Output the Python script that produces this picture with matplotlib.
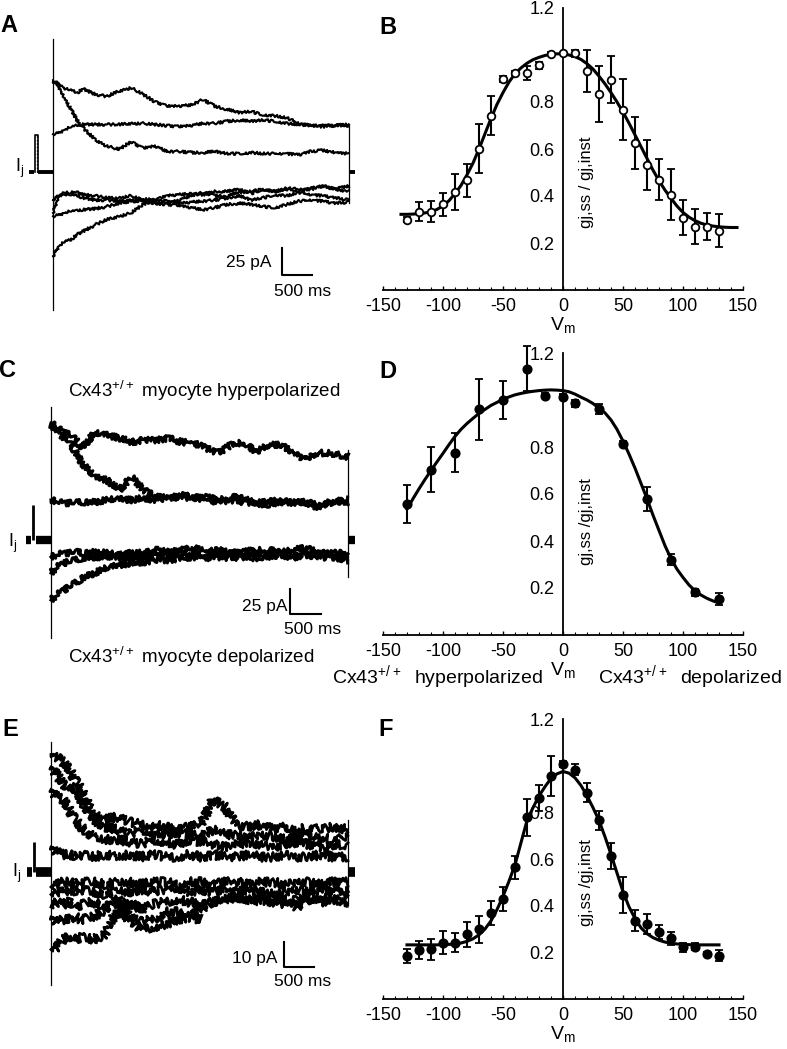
import numpy as np
import matplotlib
matplotlib.use("Agg")
import matplotlib.pyplot as plt

plt.rcParams['font.family'] = ['Liberation Sans', 'DejaVu Sans']
plt.rcParams['mathtext.fontset'] = 'custom'
plt.rcParams['mathtext.rm'] = 'Liberation Sans'
plt.rcParams['axes.unicode_minus'] = False

nan = np.nan

# ---- current traces (ms, pA) ----
tA = [0, 100, 200, 300, 400, 500, 700, 900, 1100, 1300, 1500, 1700, 1900, 2100,
      2300, 2500, 2700, 2900, 3100, 3300, 3500, 3700, 3900, 4100, 4300, 4500, 4700, 4930]
A_traces = [
    [85, 81, 77, 76, 73, 77, 72, 70, 75, 78, 72, 65, 61, 61, 62, 67, 61, 58, 55, 56, 53, 52, 50, 45, 43, 43, 43, 44],
    [35, 36, 39, 42, 43, 44, 44, 44, 44, 45, 45, 44, 43, 42, 43, 45, 45, 47, 48, 47, 48, 47, 45, 44, 43, 42, 43, 43],
    [84, 78, 67, 58, 48, 41, 30, 24, 21, 28, 22, 24, 19, 19, 18, 18, 19, 17, 17, 18, 17, 17, 17, 16, 19, 20, 18, 17],
    [-38, -22, -19, -19, -19, -21, -22, -24, -24, -22, -26, -29, -29, -26, -22, -19, -22, -22, -19, -18, -16, -18, -15, -16, -16, -13, -16, -13],
    [-41, -40, -38, -36, -36, -35, -34, -32, -29, -27, -27, -29, -30, -31, -33, -35, -33, -30, -29, -30, -32, -33, -30, -27, -26, -27, -29, -28],
    [-26, -22, -21, -21, -22, -24, -26, -26, -27, -26, -25, -26, -27, -29, -28, -27, -26, -24, -22, -26, -24, -21, -22, -19, -21, -22, -24, -26],
    [-78, -69, -64, -63, -58, -55, -49, -44, -41, -38, -30, -26, -22, -21, -20, -21, -18, -18, -16, -20, -16, -18, -16, -18, -15, -13, -16, -18],
]

tC = [0, 100, 200, 300, 400, 500, 700, 900, 1100, 1300, 1500, 1700, 1900, 2100,
      2300, 2500, 2700, 2900, 3100, 3300, 3500, 3700, 3900, 4100, 4300, 4500, 4790]
C_traces = [
    [117, 112, 108, 105, 100, 92, 107, 105, 102, 98, 100, 100, 102, 98, 97, 92, 87, 95, 98, 88, 95, 95, 88, 80, 87, 87, 83],
    [115, 108, 103, 97, 88, 77, 63, 60, 50, 63, 50, 43, 42, 43, 42, 43, 40, 43, 42, 37, 38, 40, 38, 37, 33, 38, 40],
    [40, 38, 37, 37, 37, 38, 38, 40, 41, 40, 42, 40, 42, 45, 43, 40, 38, 40, 38, 37, 35, 38, 37, 38, 35, 37, 38],
    [-17, -15, -13, -13, -12, -13, -12, -13, -15, -13, -13, -10, -12, -10, -8, -12, -10, -13, -12, -10, -10, -12, -10, -8, -12, -13, -13],
    [-33, -27, -23, -22, -20, -18, -17, -17, -18, -17, -17, -15, -15, -13, -15, -17, -13, -15, -17, -13, -15, -13, -17, -15, -13, -15, -17],
    [-60, -55, -50, -47, -43, -38, -33, -28, -25, -23, -22, -20, -20, -18, -17, -18, -17, -18, -17, -18, -17, -15, -18, -15, -17, -18, -20],
]

tE = [0, 100, 200, 300, 400, 500, 700, 900, 1100, 1300, 1500, 1700, 1900, 2100,
      2300, 2500, 2700, 2900, 3100, 3300, 3500, 3700, 3900, 4100, 4300, 4500, 4700, 4950]
E_traces = [
    [47, 46, 44, 41, 37, 33, 23, 21, 22, 20, 19, 19, 18, 17, 18, 19, 29, 26, 19, 18, 19, 17, 18, 17, 18, 17, 18, 17],
    [42, 39, 35, 33, 34, 29, 21, 18, 17, 15, 17, 16, 15, 16, 15, 14, 17, 15, 15, 14, 15, 14, 13, 14, 15, 14, 13, 14],
    [33, 30, 29, 25, 21, 18, 14, 13, 13, 12, 11, 13, 12, 11, 13, 12, 11, 10, 11, 12, 11, 10, 11, 12, 11, 10, 11, 11],
    [10, 8, 7, 7, 6, 7, 6, 7, 6, 7, 6, 7, 6, 6, 7, 6, 7, 6, 6, 7, 6, 6, 7, 6, 6, 7, 6, 6],
    [-6, -5, -4, -4, -5, -4, -4, -5, -4, -4, -5, -4, -4, -5, -4, -4, -5, -4, -4, -5, -4, -4, -5, -4, -4, -5, -4, -4],
    [-9, -8, -8, -7, -8, -7, -8, -9, -7, -8, -7, -8, -7, -6, -8, -7, -8, -7, -8, -7, -8, -9, -8, -7, -8, -7, -8, -7],
    [-14, -12, -13, -12, -14, -13, -12, -14, -13, -12, -15, -13, -12, -11, -12, -13, -12, -11, -10, -12, -11, -12, -13, -11, -10, -12, -11, -12],
    [-18, -20, -19, -19, -18, -19, -18, -15, -10, -18, -20, -19, -16, -16, -18, -19, nan, nan, nan, nan, nan, nan, nan, nan, nan, nan, nan, nan],
    [-31, -30, -27, -26, -27, -26, -27, -25, -15, -19, -23, -22, -21, -19, -18, -15, -12, -11, -10, -11, -9, -10, -11, -14, -11, -10, -11, -11],
]

# capacitive transient at onset (top, bottom) and at offset (top, bottom), pA
A_on, A_off = (123, -128), (44, -29)
C_on, C_off = (133, -98), (90, -37)
E_on, E_off = (52, -45), (21, -13)
# test pulse before the step (pA)
A_pre, C_pre, E_pre = 34, 35, 12

# ---- g-V data ----
vB = list(range(-130, 131, 10))
gB = [0.30, 0.333, 0.333, 0.364, 0.417, 0.466, 0.602, 0.742, 0.899, 0.924, 0.924, 0.957, 1.006, 1.008,
      1.008, 0.931, 0.833, 0.894, 0.767, 0.625, 0.532, 0.469, 0.406, 0.308, 0.270, 0.270, 0.252]
eB = [0.01, 0.04, 0.045, 0.05, 0.078, 0.072, 0.106, 0.083, 0.012, 0.01, 0.03, 0.015, 0.005, 0.0,
      0.015, 0.09, 0.12, 0.10, 0.13, 0.11, 0.108, 0.088, 0.108, 0.074, 0.074, 0.056, 0.07]
fitB_v = list(range(-135, 146, 5))
fitB_g = [0.322, 0.322, 0.323, 0.325, 0.328, 0.333, 0.343, 0.358, 0.38, 0.41, 0.445, 0.49, 0.54, 0.60,
          0.665, 0.73, 0.79, 0.84, 0.885, 0.92, 0.945, 0.965, 0.98, 0.99, 0.998, 1.003, 1.005, 1.005,
          1.0, 0.993, 0.981, 0.963, 0.94, 0.91, 0.877, 0.84, 0.80, 0.757, 0.71, 0.66, 0.61, 0.56, 0.51,
          0.465, 0.425, 0.39, 0.357, 0.33, 0.31, 0.295, 0.284, 0.277, 0.272, 0.269, 0.267, 0.266, 0.266]

vD = [-130, -110, -90, -70, -50, -30, -15, 0, 10, 30, 50, 70, 90, 110, 130]
gD = [0.557, 0.704, 0.776, 0.961, 1.0, 1.133, 1.019, 1.014, 0.986, 0.961, 0.814, 0.579, 0.321, 0.181, 0.153]
eD = [0.08, 0.096, 0.083, 0.13, 0.08, 0.095, 0.01, 0.01, 0.015, 0.02, 0.01, 0.05, 0.025, 0.015, 0.025]
fitD_v = list(range(-130, 131, 5))
fitD_g = [0.536, 0.58, 0.622, 0.662, 0.70, 0.737, 0.773, 0.81, 0.845, 0.875, 0.90, 0.922, 0.943, 0.96,
          0.977, 0.99, 1.003, 1.013, 1.022, 1.028, 1.033, 1.037, 1.04, 1.042, 1.043, 1.042, 1.04, 1.035,
          1.025, 1.012, 1.0, 0.985, 0.965, 0.945, 0.915, 0.875, 0.825, 0.77, 0.71, 0.645, 0.58, 0.51,
          0.445, 0.38, 0.325, 0.28, 0.245, 0.213, 0.188, 0.17, 0.156, 0.145, 0.136]

vF = list(range(-130, 131, 10))
gF = [0.186, 0.21, 0.214, 0.242, 0.242, 0.277, 0.298, 0.368, 0.428, 0.564, 0.778, 0.862, 0.955, 1.007,
      0.983, 0.885, 0.766, 0.613, 0.445, 0.336, 0.322, 0.288, 0.26, 0.221, 0.224, 0.193, 0.186]
eF = [0.03, 0.037, 0.045, 0.05, 0.04, 0.052, 0.058, 0.052, 0.052, 0.05, 0.08, 0.055, 0.085, 0.012,
      0.025, 0.04, 0.04, 0.055, 0.077, 0.045, 0.042, 0.03, 0.028, 0.02, 0.015, 0.01, 0.025]
fitF_v = list(range(-130, 131, 5))
fitF_g = [0.232, 0.232, 0.232, 0.232, 0.232, 0.232, 0.233, 0.234, 0.236, 0.24, 0.247, 0.258, 0.275, 0.30,
          0.335, 0.383, 0.44, 0.505, 0.575, 0.67, 0.765, 0.82, 0.87, 0.91, 0.945, 0.965, 0.975,
          0.968, 0.948, 0.915, 0.871, 0.82, 0.765, 0.695, 0.62, 0.54, 0.46, 0.395, 0.345, 0.305, 0.28,
          0.263, 0.252, 0.244, 0.239, 0.236, 0.234, 0.233, 0.232, 0.232, 0.232, 0.232, 0.232]

W, H = 787, 1049
fig = plt.figure(figsize=(W / 100, H / 100), dpi=100)


def px_rect(x0, y0, x1, y1):
    return [x0 / W, 1 - y1 / H, (x1 - x0) / W, (y1 - y0) / H]


def ftext(x, y, s, **kw):
    fig.text(x / W, 1 - y / H, s, **kw)


def trace_axes(x0, y0, x1, y1, t0px, base_px, ms_px, pa_px):
    ax = fig.add_axes(px_rect(x0, y0, x1, y1))
    ax.set_xlim((x0 - t0px) * ms_px, (x1 - t0px) * ms_px)
    ax.set_ylim((base_px - y1) * pa_px, (base_px - y0) * pa_px)
    ax.axis("off")
    return ax


def draw_traces(ax, t, traces, on, off, pre, lw, noise, wl, base_lw, hollow_pulse,
                bar_t, bar_pa, bar_x, bar_y):
    for tr in traces:
        ln, = ax.plot(t, tr, color="black", lw=lw)
        ln.set_sketch_params(noise, wl, 3)
    ax.plot([0, 0], on, color="black", lw=0.9)
    ax.plot([t[-1], t[-1]], off, color="black", lw=0.9)
    if hollow_pulse:
        ax.plot([-300, -300, -250, -250], [0, pre, pre, 0], color="black", lw=1.2)
        ax.plot([-275, -275], [0, pre], color="black", lw=1.0, ls=(0, (1, 1.5)))
    else:
        ax.plot([-285, -285], [0, pre], color="black", lw=2.0, solid_capstyle="butt")
    ax.plot([-400, -320], [0, 0], color="black", lw=base_lw, solid_capstyle="butt")
    ax.plot([-250, 0], [0, 0], color="black", lw=base_lw, solid_capstyle="butt")
    ax.plot([t[-1], t[-1] + 110], [0, 0], color="black", lw=base_lw, solid_capstyle="butt")
    # scale bar
    ax.plot([bar_x, bar_x, bar_x + bar_t], [bar_y + bar_pa, bar_y, bar_y], color="black", lw=1.5)


# ---- panel A ----
axA = trace_axes(0, 30, 365, 320, 53, 172, 16.67, 0.926)
draw_traces(axA, tA, A_traces, A_on, A_off, A_pre, 1.5, 1.3, 1.8, 2.8, True, 500, 25, 3817, -95.4)
ftext(272, 263, "25 pA", ha="right", va="center", fontsize=12.5)
ftext(303, 291, "500 ms", ha="center", va="center", fontsize=12.5)
ftext(20, 168, r"I$_\mathregular{j}$", ha="center", va="center", fontsize=13)

# ---- panel C ----
axC = trace_axes(0, 395, 365, 650, 51, 540, 16.13, 1.0)
draw_traces(axC, tC, C_traces, C_on, C_off, C_pre, 2.2, 3.0, 1.0, 6, False, 500, 25, 3855, -74)
ftext(288, 606, "25 pA", ha="right", va="center", fontsize=12.5)
ftext(313, 629, "500 ms", ha="center", va="center", fontsize=12.5)
ftext(13, 543, r"I$_\mathregular{j}$", ha="center", va="center", fontsize=13)
ftext(68, 391, r"Cx43$^\mathregular{+/+}$ myocyte hyperpolarized", ha="left", va="center", fontsize=13.5)
ftext(68, 657, r"Cx43$^\mathregular{+/+}$ myocyte depolarized", ha="left", va="center", fontsize=13.5)

# ---- panel E ----
axE = trace_axes(0, 735, 365, 1000, 51, 872, 16.67, 0.4)
draw_traces(axE, tE, E_traces, E_on, E_off, E_pre, 2.0, 4.5, 0.8, 7, False, 500, 10, 3884, -38)
ftext(277, 958, "10 pA", ha="right", va="center", fontsize=12.5)
ftext(303, 981, "500 ms", ha="center", va="center", fontsize=12.5)
ftext(17, 873, r"I$_\mathregular{j}$", ha="center", va="center", fontsize=13)


# ---- g-V panels ----
def gv_panel(y_top, y_bot, v, g, e, fv, fg, open_marker, ylab, ylab_y):
    ax = fig.add_axes(px_rect(383, y_top, 743, y_bot))
    ax.set_xlim(-150, 150)
    ax.set_ylim(0, 1.2)
    ax.spines["left"].set_position(("data", 0))
    ax.spines[["top", "right"]].set_visible(False)
    for s in ("left", "bottom"):
        ax.spines[s].set_linewidth(1.3)
    ax.plot(fv, fg, color="black", lw=2.2, zorder=2)
    ax.errorbar(v, g, yerr=e, fmt="o", ms=5.5 if open_marker else 6,
                mfc="white" if open_marker else "black", mec="black", mew=1.3,
                ecolor="black", elinewidth=1.5, capsize=3, capthick=1.5, zorder=3, clip_on=False)
    ax.set_xticks([-150, -100, -50, 0, 50, 100, 150])
    ax.set_xticks(range(-150, 151, 10), minor=True)
    ax.set_yticks([0.2, 0.4, 0.6, 0.8, 1.2])
    ax.set_yticklabels(["0.2", "0.4", "0.6", "0.8", "1.2"])
    ax.tick_params(axis="y", length=0, pad=6, labelsize=13)
    ax.tick_params(axis="x", which="major", direction="in", length=3, width=1, pad=6, labelsize=13)
    ax.tick_params(axis="x", which="minor", direction="in", length=2, width=0.8)
    ax.set_xlabel(r"V$_\mathregular{m}$", fontsize=14, labelpad=0)
    ftext(587, ylab_y, ylab, rotation=90, ha="center", va="center", fontsize=12)
    return ax


gv_panel(8, 290, vB, gB, eB, fitB_v, fitB_g, True, "gj,ss / gj,inst", 182)
gv_panel(353, 635, vD, gD, eD, fitD_v, fitD_g, False, "gj,ss /gj,inst", 522)
gv_panel(719, 999, vF, gF, eF, fitF_v, fitF_g, False, "gj,ss /gj,inst", 883)

ftext(332, 678, r"Cx43$^\mathregular{+/+}$  hyperpolarized", ha="left", va="center", fontsize=14)
ftext(598, 678, r"Cx43$^\mathregular{+/+}$  depolarized", ha="left", va="center", fontsize=14)

for lab, x, y in [("A", 9, 25), ("B", 388, 28), ("C", 8, 371),
                  ("D", 388, 372), ("E", 10, 730), ("F", 386, 730)]:
    ftext(x, y, lab, ha="center", va="center", fontsize=17, fontweight="bold")

fig.savefig("out.png", dpi=100)
